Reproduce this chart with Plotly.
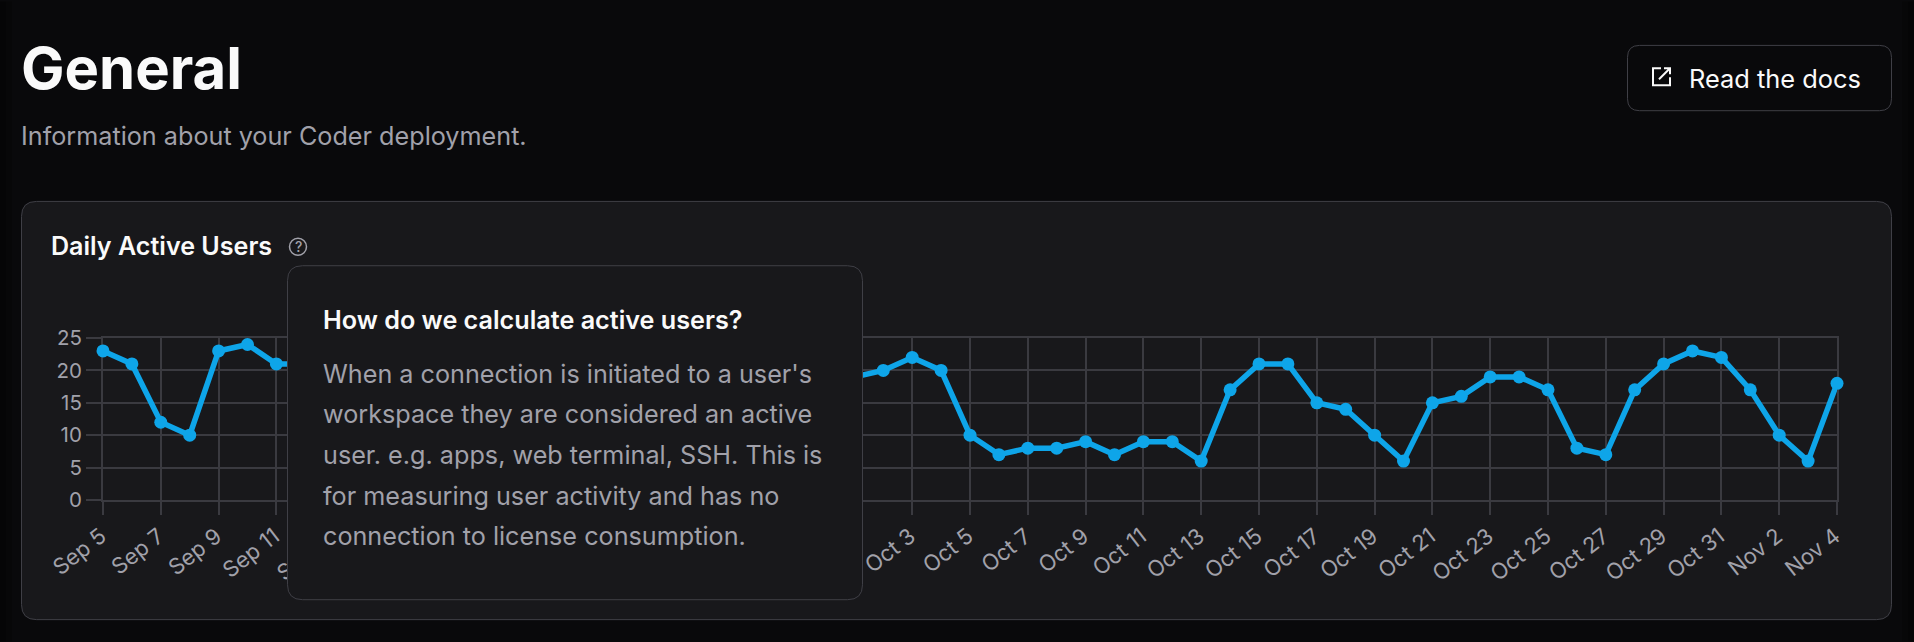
import plotly.graph_objects as go

W, H = 1914, 642
days = ["Sep 5","Sep 6","Sep 7","Sep 8","Sep 9","Sep 10","Sep 11","Sep 12","Sep 13","Sep 14","Sep 15","Sep 16",
        "Sep 17","Sep 18","Sep 19","Sep 20","Sep 21","Sep 22","Sep 23","Sep 24","Sep 25","Sep 26","Sep 27","Sep 28",
        "Sep 29","Sep 30","Oct 1","Oct 2","Oct 3","Oct 4","Oct 5","Oct 6","Oct 7","Oct 8","Oct 9","Oct 10","Oct 11",
        "Oct 12","Oct 13","Oct 14","Oct 15","Oct 16","Oct 17","Oct 18","Oct 19","Oct 20","Oct 21","Oct 22","Oct 23",
        "Oct 24","Oct 25","Oct 26","Oct 27","Oct 28","Oct 29","Oct 30","Oct 31","Nov 1","Nov 2","Nov 3","Nov 4"]
# Days hidden behind the popover cannot be read, so they stay empty.
users = [23,21,12,10,23,24,21,21,None,None,None,None,None,None,None,None,None,None,None,None,None,None,None,None,
         None,None,19,20,22,20,10,7,8,8,9,7,9,9,6,17,21,21,15,14,10,6,15,16,19,19,17,8,7,17,21,23,22,17,10,6,18]
tick_days = ["Sep 5","Sep 7","Sep 9","Sep 11","Sep 13","Sep 15","Sep 17","Sep 19","Sep 21","Sep 23","Sep 25","Sep 27",
             "Sep 29","Oct 1","Oct 3","Oct 5","Oct 7","Oct 9","Oct 11","Oct 13","Oct 15","Oct 17","Oct 19","Oct 21",
             "Oct 23","Oct 25","Oct 27","Oct 29","Oct 31","Nov 2","Nov 4"]
y_ticks = [0,5,10,15,20,25]
popover_lines = ["When a connection is initiated to a user's","workspace they are considered an active",
                 "user. e.g. apps, web terminal, SSH. This is","for measuring user activity and has no",
                 "connection to license consumption."]

BG, CARD, BORDER, GRID = "#09090b", "#18181b", "#3f3f46", "#3a3a40"
MUTED, WHITE, BLUE = "#a1a1aa", "#fafafa", "#0ea5e9"
FONT = "Inter"
L, R, T, B = 103, 1837, 337.5, 500

def px(x): return (x - L) / (R - L)
def py(y): return (B - y) / (B - T)

def rrect(x0, y0, x1, y1, r, fill, line):
    p = (f"M {px(x0+r)} {py(y0)} L {px(x1-r)} {py(y0)} Q {px(x1)} {py(y0)} {px(x1)} {py(y0+r)} "
         f"L {px(x1)} {py(y1-r)} Q {px(x1)} {py(y1)} {px(x1-r)} {py(y1)} L {px(x0+r)} {py(y1)} "
         f"Q {px(x0)} {py(y1)} {px(x0)} {py(y1-r)} L {px(x0)} {py(y0+r)} Q {px(x0)} {py(y0)} {px(x0+r)} {py(y0)} Z")
    return dict(type="path", path=p, xref="paper", yref="paper", fillcolor=fill,
                line=dict(color=line, width=1), layer="above")

def text(s, x, y, size, color, weight=400, anchor="left"):
    return dict(text=s, x=px(x), y=py(y), xref="paper", yref="paper", xanchor=anchor, yanchor="middle",
                showarrow=False, align="left", borderpad=0,
                font=dict(family=FONT, size=size, color=color, weight=weight))

def strip(x0, x1, alpha):
    return dict(type="rect", xref="paper", yref="paper", x0=px(x0), x1=px(x1), y0=py(0), y1=py(H),
                fillcolor=f"rgba(0,0,0,{alpha})", line=dict(width=0), layer="below")

fig = go.Figure(go.Scatter(x=days, y=users, mode="lines+markers", connectgaps=True, cliponaxis=False,
                           line=dict(color=BLUE, width=5.5), marker=dict(color=BLUE, size=13),
                           hoverinfo="skip"))

shapes = [
    strip(0, 6, 0.4), strip(6, 12, 0.2), strip(W - 6, W, 0.4), strip(W - 12, W - 6, 0.2),
    dict(rrect(21.5, 200.5, 1891.5, 620, 15, CARD, BORDER), layer="below"),
    rrect(1627.5, 44, 1891.5, 109.5, 12, BG, BORDER),
    rrect(287.5, 265, 862.5, 600, 15, CARD, BORDER),
    dict(type="circle", xref="paper", yref="paper", x0=px(289.5), x1=px(306.5), y0=py(237.5), y1=py(254.5),
         line=dict(color=MUTED, width=1.5), layer="above"),
    dict(type="path", xref="paper", yref="paper", layer="above", line=dict(color=WHITE, width=2),
         path=(f"M {px(1661)} {py(67)} L {px(1653)} {py(67)} L {px(1653)} {py(84)} L {px(1670)} {py(84)} "
               f"L {px(1670)} {py(76)} M {px(1659)} {py(78)} L {px(1670)} {py(67)} M {px(1664)} {py(67)} "
               f"L {px(1670)} {py(67)} L {px(1670)} {py(73)}")),
]
annotations = [
    text("General", 20, 67, 58, WHITE, 700),
    text("Information about your Coder deployment.", 20, 135, 25.2, MUTED),
    text("Read the docs", 1688, 77, 25.4, WHITE, 400),
    text("Daily Active Users", 50, 245.5, 25.1, WHITE, 600),
    text("?", 298, 246, 14, MUTED, 500, "center"),
    text("How do we calculate active users?", 322, 319, 25.2, WHITE, 600),
]
for i, line in enumerate(popover_lines):
    annotations.append(text(line, 322, 373.5 + i * 40.7, 25.2, MUTED))

axis_common = dict(showgrid=True, gridcolor=GRID, gridwidth=2, zeroline=False, showline=True, mirror=True,
                   linecolor=GRID, linewidth=2, layer="below traces", ticks="outside", tickwidth=2, tickcolor=GRID)
fig.update_layout(
    width=W, height=H, margin=dict(l=L, r=W - R, t=T, b=H - B, pad=0), autosize=False,
    paper_bgcolor=BG, plot_bgcolor=CARD, showlegend=False,
    font=dict(family=FONT, color=MUTED, size=20),
    shapes=shapes, annotations=annotations,
    xaxis=dict(type="category", categoryorder="array", categoryarray=days, range=[0, 60],
               tickmode="array", tickvals=tick_days, ticktext=tick_days, tickangle=-38, ticklen=13,
               ticklabelshift=-2, tickfont=dict(family=FONT, size=22, color=MUTED), **axis_common),
    yaxis=dict(range=[0, 25], tickmode="array", tickvals=y_ticks, ticktext=[str(v) for v in y_ticks],
               ticklen=15, tickfont=dict(family=FONT, size=20.5, color=MUTED), **axis_common),
)
fig.write_html("out.html", config=dict(displayModeBar=False),
               post_script="document.body.style.margin='0';document.body.style.overflow='hidden';")
